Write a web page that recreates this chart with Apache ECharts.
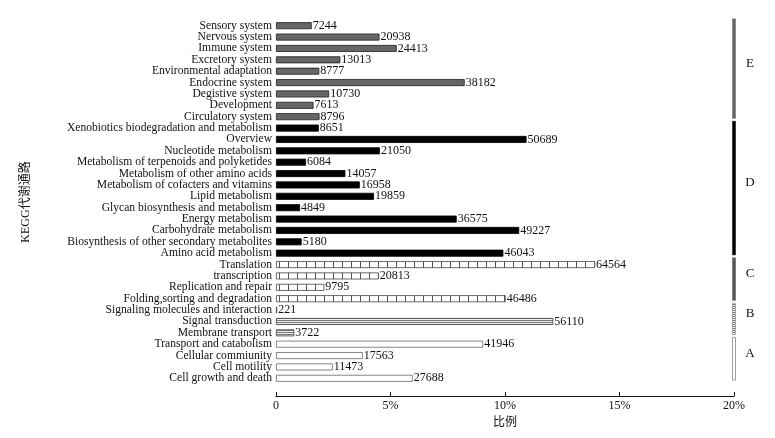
<!DOCTYPE html>
<html>
<head>
<meta charset="utf-8">
<script src="https://cdn.jsdelivr.net/npm/echarts@6/dist/echarts.min.js"></script>
<style>
  html, body { margin: 0; padding: 0; background: #fff; }
  #chart { width: 775px; height: 438px; }
</style>
</head>
<body>
<div id="chart"></div>
<script>
// categories, top to bottom
const categories = [
  'Sensory system', 'Nervous system', 'Immune system', 'Excretory system',
  'Environmental adaptation', 'Endocrine system', 'Degistive system', 'Development',
  'Circulatory system',
  'Xenobiotics biodegradation and metabolism', 'Overview', 'Nucleotide metabolism',
  'Metabolism of terpenoids and polyketides', 'Metabolism of other amino acids',
  'Metabolism of cofacters and vitamins', 'Lipid metabolism',
  'Glycan biosynthesis and metabolism', 'Energy metabolism', 'Carbohydrate metabolism',
  'Biosynthesis of other secondary metabolites', 'Amino acid metabolism',
  'Translation', 'transcription', 'Replication and repair',
  'Folding,sorting and degradation',
  'Signaling molecules and interaction', 'Signal transduction', 'Membrane transport',
  'Transport and catabolism', 'Cellular commiunity', 'Cell motility', 'Cell growth and death'
];

// gene counts written next to the bars
const counts = [
  7244, 20938, 24413, 13013, 8777, 38182, 10730, 7613, 8796,
  8651, 50689, 21050, 6084, 14057, 16958, 19859, 4849, 36575, 49227, 5180, 46043,
  64564, 20813, 9795, 46486,
  221, 56110, 3722,
  41946, 17563, 11473, 27688
];

// bar length in percent
const percents = [
  1.56, 4.52, 5.27, 2.81, 1.89, 8.24, 2.32, 1.64, 1.90,
  1.87, 10.94, 4.54, 1.31, 3.03, 3.66, 4.28, 1.05, 7.89, 10.62, 1.12, 9.93,
  13.93, 4.49, 2.11, 10.03,
  0.05, 12.11, 0.80,
  9.05, 3.79, 2.48, 5.97
];

// right-hand groups
const groupNames = ['E', 'D', 'C', 'B', 'A'];
const groupSizes = [9, 12, 4, 3, 4];

const xTicks = [0, 5, 10, 15, 20];

function makePattern(w, h, draw) {
  const c = document.createElement('canvas');
  c.width = w; c.height = h;
  const ctx = c.getContext('2d');
  draw(ctx, w, h);
  return { image: c, repeat: 'repeat' };
}

// white boxes with vertical dividers
const boxPattern = makePattern(9, 8, (ctx, w, h) => {
  ctx.fillStyle = '#fff'; ctx.fillRect(0, 0, w, h);
  ctx.fillStyle = '#555'; ctx.fillRect(0, 0, 1, h);
});
// horizontal stripes
const stripePattern = makePattern(4, 2, (ctx, w, h) => {
  ctx.fillStyle = '#777'; ctx.fillRect(0, 0, w, 1);
  ctx.fillStyle = '#eee'; ctx.fillRect(0, 1, w, 1);
});

const groupStyles = {
  E: { color: '#666', borderColor: '#222', borderWidth: 0.8 },
  D: { color: '#000', borderColor: '#000', borderWidth: 0.8 },
  C: { color: boxPattern, borderColor: '#444', borderWidth: 0.8 },
  B: { color: stripePattern, borderColor: '#444', borderWidth: 0.8 },
  A: { color: '#fff', borderColor: '#666', borderWidth: 0.8 }
};
const bracketStyles = {
  E: { fill: '#666', stroke: '#666', lineWidth: 0.5 },
  D: { fill: '#000', stroke: '#000', lineWidth: 0.5 },
  C: { fill: '#555', stroke: '#555', lineWidth: 0.5 },
  B: { fill: stripePattern, stroke: '#888', lineWidth: 0.6 },
  A: { fill: '#fff', stroke: '#888', lineWidth: 0.8 }
};

// which group each category belongs to
const catGroup = [];
const groupRanges = [];
let start = 0;
groupNames.forEach((g, i) => {
  groupRanges.push([20, start, start + groupSizes[i] - 1, i]);
  for (let k = 0; k < groupSizes[i]; k++) catGroup.push(g);
  start += groupSizes[i];
});

const chart = echarts.init(document.getElementById('chart'));
const serif = '"Liberation Serif", "Times New Roman", serif';
const cjk = '"Liberation Serif", "Noto Sans CJK SC", sans-serif';

const option = {
  animation: false,
  grid: { left: 276, right: 41, top: 20, bottom: 54 },
  xAxis: {
    type: 'value',
    min: 0, max: 20, interval: 5,
    offset: 12,
    name: '比例',
    nameLocation: 'middle',
    nameGap: 20,
    nameTextStyle: { fontFamily: cjk, fontSize: 12, color: '#111' },
    axisLine: { show: true, lineStyle: { color: '#111', width: 1 } },
    axisTick: { show: true, inside: true, length: 4, lineStyle: { color: '#111' } },
    axisLabel: {
      fontFamily: serif, fontSize: 12, color: '#111', margin: 4,
      customValues: xTicks,
      formatter: v => (v === 0 ? '0' : v + '%')
    },
    splitLine: { show: false }
  },
  yAxis: {
    type: 'category',
    inverse: true,
    data: categories,
    name: 'KEGG代谢通路',
    nameLocation: 'middle',
    nameRotate: 90,
    nameGap: 244,
    nameTextStyle: { fontFamily: cjk, fontSize: 12, color: '#111' },
    axisLine: { show: false },
    axisTick: { show: false },
    axisLabel: { interval: 0, fontFamily: serif, fontSize: 11.6, color: '#111', margin: 4 }
  },
  series: [
    {
      type: 'bar',
      barWidth: 7,
      data: percents.map((p, i) => ({ value: p, itemStyle: groupStyles[catGroup[i]] })),
      label: {
        show: true,
        position: 'right',
        distance: 1,
        fontFamily: serif,
        fontSize: 12,
        color: '#111',
        formatter: p => String(counts[p.dataIndex])
      }
    },
    {
      type: 'custom',
      encode: { x: 0, y: 1 },
      data: groupRanges,
      renderItem: (params, api) => {
        const band = api.size([0, 1])[1];
        const top = api.coord([api.value(0), api.value(1)]);
        const bottom = api.coord([api.value(0), api.value(2)]);
        const y1 = top[1] - band * 0.6;
        const y2 = bottom[1] + band * 0.15;
        const g = groupNames[api.value(3)];
        const st = bracketStyles[g];
        return {
          type: 'group',
          children: [
            {
              type: 'rect',
              shape: { x: top[0] - 1.5, y: y1, width: 3, height: y2 - y1 },
              style: { fill: st.fill, stroke: st.stroke, lineWidth: st.lineWidth }
            },
            {
              type: 'text',
              x: top[0] + 16,
              y: (y1 + y2) / 2 - 5,
              style: {
                text: g, fontFamily: serif, fontSize: 13, fill: '#111',
                align: 'center', verticalAlign: 'middle'
              }
            }
          ]
        };
      }
    }
  ]
};

chart.setOption(option);
</script>
</body>
</html>
